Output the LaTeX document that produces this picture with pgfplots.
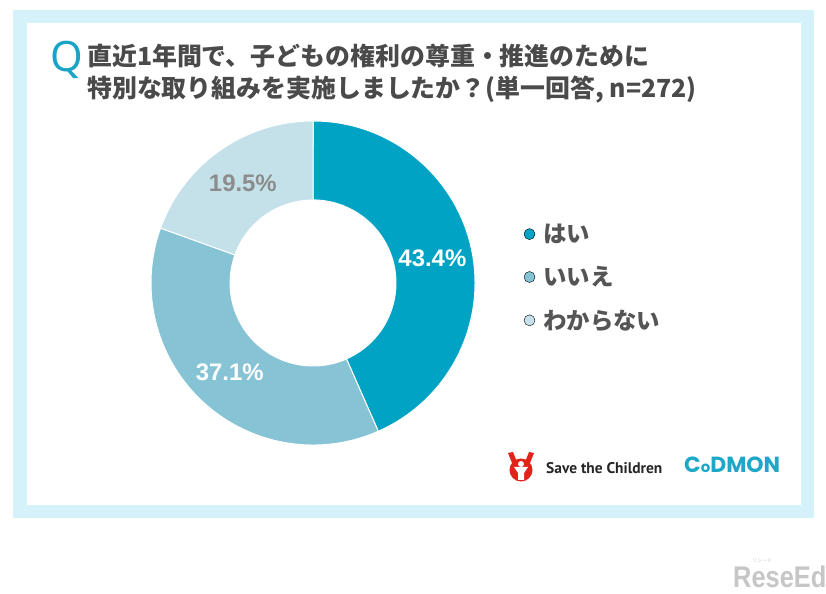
\documentclass[border=0pt]{standalone}
\usepackage{pgfplots}
\pgfplotsset{compat=1.18}
\usepackage{pgfplotstable}
\usepackage{fontspec}
\setmainfont{Liberation Sans}
\newfontfamily\cjk{Noto Sans CJK JP}
\newfontfamily\notosans{Noto Sans}
\newfontfamily\ptsans{PT Sans}
\newfontfamily\poppins{Poppins}
\definecolor{cA}{HTML}{00A3C4}
\definecolor{cB}{HTML}{85C3D5}
\definecolor{cC}{HTML}{C4E1EA}
\definecolor{labgray}{HTML}{8C8C8C}
\definecolor{framecol}{HTML}{D5F1F9}
\definecolor{titlecol}{HTML}{4A4A4A}
\definecolor{legcol}{HTML}{555555}
\definecolor{qcol}{HTML}{1AA3C6}
\definecolor{stcred}{HTML}{E2231A}
\definecolor{codmon}{HTML}{1EA8C8}
\definecolor{wm}{HTML}{C6C6C6}

\pgfplotstableread{
value fillcol labcol
43.4 cA white
37.1 cB white
19.5 cC labgray
}\piedata

\begin{document}
\begin{tikzpicture}[x=1bp,y=1bp]
\useasboundingbox (0,0) rectangle (826,594);
\fill[white] (0,0) rectangle (826,594);
\fill[framecol] (13,76) rectangle (814,584);
\fill[white] (27,89) rectangle (801,571);
% title
\node[text=qcol, font=\notosans\fontsize{42}{42}\selectfont, anchor=base west, inner sep=0] at (50.5,522) {Q};
\node[text=titlecol, font=\cjk\bfseries\fontsize{25}{32}\selectfont, anchor=base west, inner sep=0, align=left] at (87,496.5) {直近1年間で、子どもの権利の尊重・推進のために\\特別な取り組みを実施しましたか？(単一回答, n=272)};

\begin{axis}[hide axis, scale only axis, width=324bp, height=324bp,
  xmin=-1, xmax=1, ymin=-1, ymax=1, at={(151bp,149bp)}, anchor=south west, clip=false,
  legend style={at={(axis cs:1.30,0.377)}, anchor=north west, draw=none, fill=none,
    font=\cjk\bfseries\fontsize{23.5}{28}\selectfont, text=legcol, inner sep=0pt,
    row sep=18.5bp, nodes={inner sep=2bp},
    /tikz/every odd column/.append style={column sep=6bp}},
  legend cell align=left,
  legend image code/.code={\fill[#1] (0bp,0bp) circle (5.5bp);}
]
\pgfplotstablegetrowsof{\piedata}
\pgfmathtruncatemacro\N{\pgfplotsretval-1}
\def\cum{0}
\pgfplotsforeachungrouped \i in {0,...,\N}{%
  \pgfplotstablegetelem{\i}{value}\of\piedata \edef\v{\pgfplotsretval}%
  \pgfplotstablegetelem{\i}{fillcol}\of\piedata \edef\fc{\pgfplotsretval}%
  \pgfplotstablegetelem{\i}{labcol}\of\piedata \edef\lc{\pgfplotsretval}%
  \pgfmathsetmacro\a{90-3.6*\cum}%
  \pgfmathsetmacro\b{90-3.6*(\cum+\v)}%
  \pgfmathsetmacro\m{(\a+\b)/2}%
  \edef\tmp{\noexpand\fill[\fc, draw=white, line width=1bp] (axis cs:{cos(\a)},{sin(\a)}) arc[start angle=\a, end angle=\b, radius=162bp] -- (axis cs:{0.512*cos(\b)},{0.512*sin(\b)}) arc[start angle=\b, end angle=\a, radius=83bp] -- cycle;
  \noexpand\node[text=\lc, font=\noexpand\bfseries\noexpand\fontsize{24}{24}\noexpand\selectfont] at (axis cs:{0.753*cos(\m)},{0.753*sin(\m)}) {\v\noexpand\%};}%
  \tmp
  \pgfmathsetmacro\cum{\cum+\v}%
}
\addlegendimage{fill=cA}
\addlegendentry{はい}
\addlegendimage{fill=cB}
\addlegendentry{いいえ}
\addlegendimage{fill=cC}
\addlegendentry{わからない}
\end{axis}

% logos
\fill[stcred] (521,124) circle (11.5);
\fill[stcred] (512,131) -- (508,141) -- (513,142) -- (517,132) -- cycle;
\fill[stcred] (530,131) -- (534,141) -- (529,142) -- (525,132) -- cycle;
\fill[white] (521,130) circle (3);
\fill[white] (514,127) -- (528,127) -- (524,121) -- (524,114) -- (518,114) -- (518,121) -- cycle;
\node[text=black!85, font=\ptsans\bfseries\fontsize{15.5}{15.5}\selectfont, anchor=west, inner sep=0] at (546,126) {Save the Children};
\node[text=codmon, font=\poppins\bfseries\fontsize{22}{22}\selectfont, anchor=west, inner sep=0] at (684,129) {C{\fontsize{15}{15}\selectfont o}DMON};
% watermark
\node[text=wm, font=\bfseries\fontsize{30}{30}\selectfont, anchor=base west, inner sep=0, xscale=0.85] at (733,6) {ReseEd};
\node[text=wm, font=\cjk\fontsize{5}{5}\selectfont, anchor=base west, inner sep=0] at (752,31) {リシード};
\end{tikzpicture}
\end{document}
